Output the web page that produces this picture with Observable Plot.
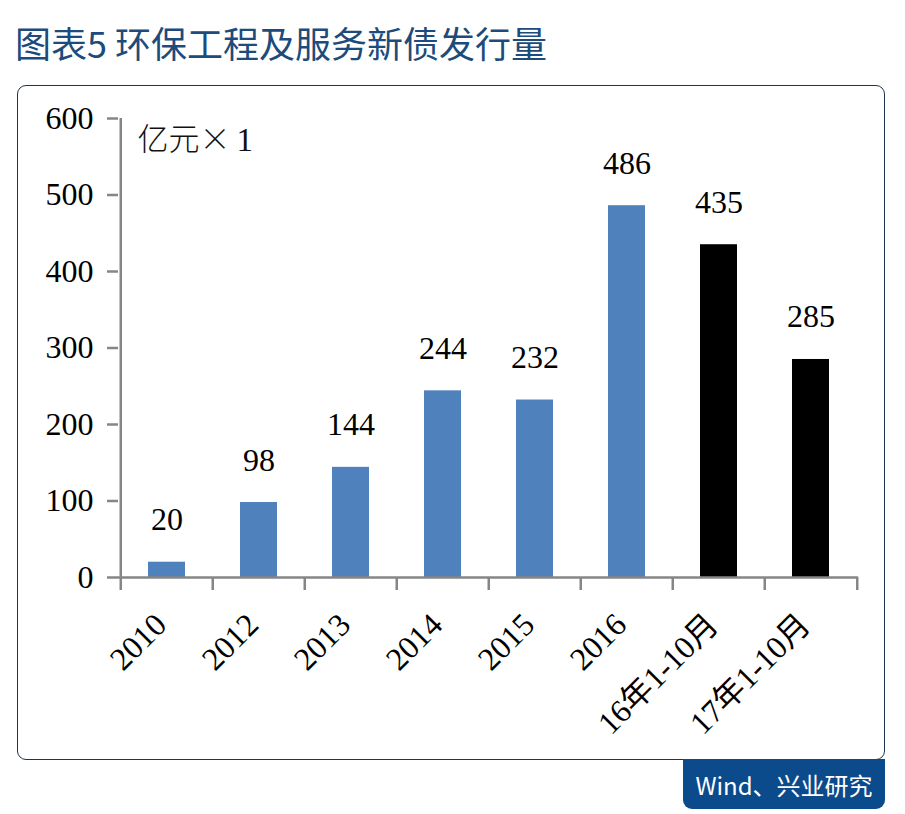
<!DOCTYPE html>
<html>
<head>
<meta charset="utf-8">
<script src="https://cdn.jsdelivr.net/npm/d3@7"></script>
<script src="https://cdn.jsdelivr.net/npm/@observablehq/plot@0.6"></script>
<style>
  body { margin: 0; background: #fff; }
  #wrap { position: relative; width: 905px; height: 814px; overflow: hidden; background: #fff; }
  #title { position: absolute; left: 15px; top: 24px; font-size: 36px; line-height: 36px; font-family: "Noto Sans CJK SC", sans-serif; color: #1c4b7c; white-space: nowrap; }
  #frame { position: absolute; left: 17px; top: 85px; width: 868px; height: 675px; border: 1.5px solid #1c3552; border-radius: 9px; box-sizing: border-box; }
  #chart { position: absolute; left: 0; top: 0; }
  #src { position: absolute; left: 683px; top: 759px; width: 202px; height: 50px; background: #0b4a8b; color: #fff; border-radius: 0 0 9px 9px; font-size: 24px; font-family: "Noto Sans CJK SC", sans-serif; display: flex; align-items: center; justify-content: center; }
</style>
</head>
<body>
<div id="wrap">
  <div id="title"></div>
  <div id="frame"></div>
  <div id="chart"></div>
  <div id="src"></div>
</div>
<script>
const titleText = "图表5 环保工程及服务新债发行量";
const sourceText = "Wind、兴业研究";
const unitName = "亿元×";
const unitScale = "1";
const categories = ["2010", "2012", "2013", "2014", "2015", "2016", "16年1-10月", "17年1-10月"];
const values = [20, 98, 144, 244, 232, 486, 435, 285];
const periods = ["全年", "全年", "全年", "全年", "全年", "全年", "1-10月", "1-10月"];
const periodKinds = ["全年", "1-10月"];
const yTicks = [0, 100, 200, 300, 400, 500, 600];

document.getElementById("title").textContent = titleText;
document.getElementById("src").textContent = sourceText;

const data = categories.map((c, i) => ({cat: c, value: values[i], period: periods[i]}));

const W = 905, H = 760, mL = 118, mR = 47, mT = 118, mB = 183;
const step = (W - mL - mR) / categories.length;
const axisColor = "#868686";
const serif = '"Liberation Serif", "Noto Sans CJK SC", serif';

const chart = Plot.plot({
  width: W, height: H,
  marginLeft: mL, marginRight: mR, marginTop: mT, marginBottom: mB,
  style: {fontFamily: serif, fontSize: "32px", color: "#000", background: "transparent", overflow: "visible"},
  x: {domain: categories, paddingInner: 0.6, paddingOuter: 0.3, axis: null},
  y: {domain: [0, 600], axis: null},
  color: {domain: periodKinds, range: ["#4f81bd", "#000000"]},
  marks: [
    Plot.barY(data, {x: "cat", y: "value", fill: "period"}),
    Plot.text(data, {x: "cat", y: "value", text: d => String(d.value), dy: -32, lineAnchor: "bottom", fill: "#000"}),
    Plot.text([unitName], {frameAnchor: "top-left", dx: 19, dy: 9, textAnchor: "start", lineAnchor: "top", fill: "#111", fontSize: 31, fontFamily: '"Noto Sans CJK SC", sans-serif', fontWeight: 300, letterSpacing: "3px"}),
    Plot.text([unitScale], {frameAnchor: "top-left", dx: 118, dy: 9, textAnchor: "start", lineAnchor: "top", fill: "#111", fontSize: 33}),
    Plot.ruleY([0], {stroke: axisColor, strokeWidth: 2.5}),
    Plot.ruleX([categories[0]], {y1: 0, y2: 600, dx: -step / 2, stroke: axisColor, strokeWidth: 2.5}),
    Plot.axisY(yTicks, {label: null, tickSize: 11, tickPadding: 14, stroke: axisColor, strokeWidth: 2.5, fill: "#000"}),
    Plot.axisX({label: null, tickSize: 13, tickFormat: () => "", dx: -step / 2, stroke: axisColor, strokeWidth: 2.5}),
    Plot.axisX([categories[categories.length - 1]], {label: null, tickSize: 13, tickFormat: () => "", dx: step / 2, stroke: axisColor, strokeWidth: 2.5}),
    Plot.axisX({label: null, tickSize: 0, tickRotate: -45, tickPadding: 42, dx: -6, fill: "#000"})
  ]
});
document.getElementById("chart").appendChild(chart);
</script>
</body>
</html>
